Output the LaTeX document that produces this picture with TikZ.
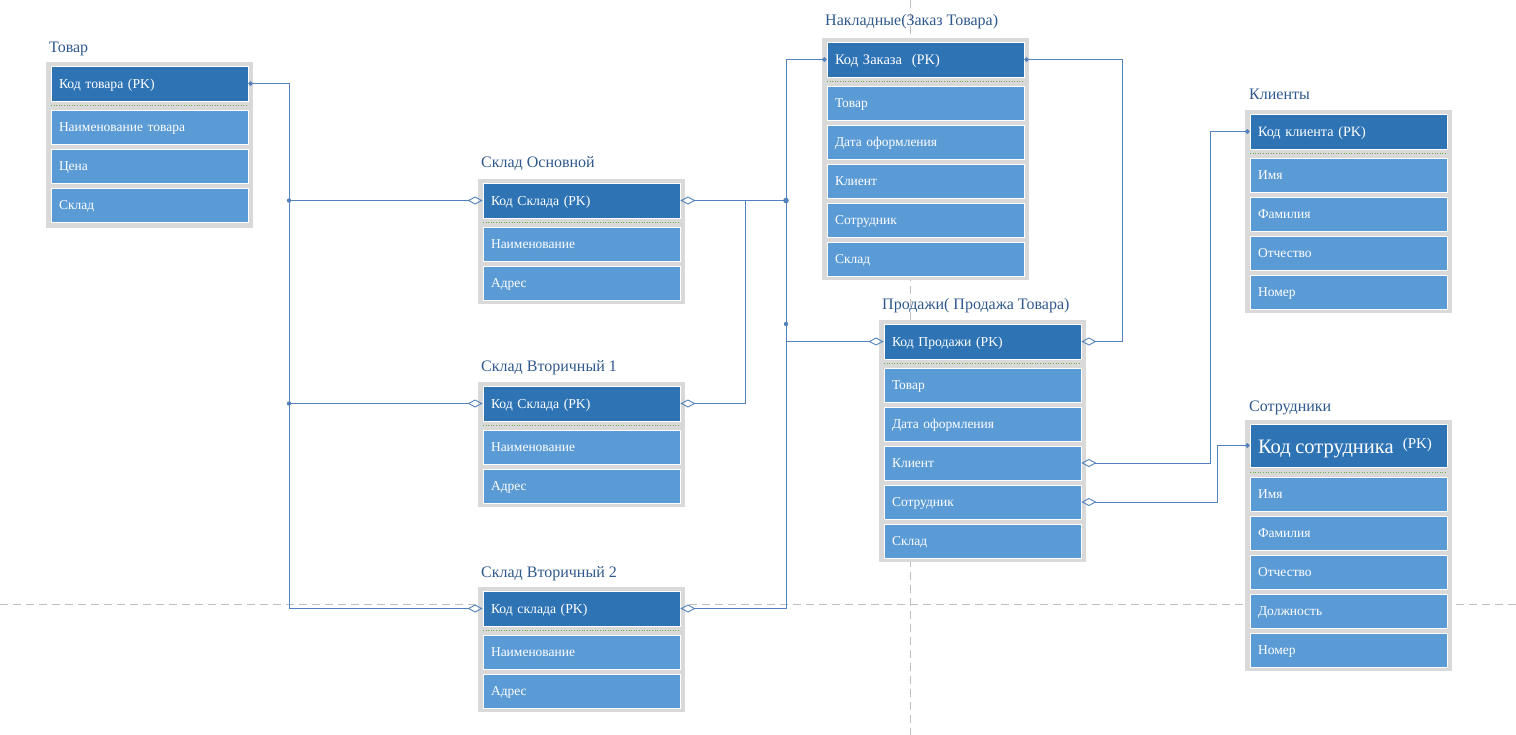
\documentclass[tikz,border=0pt]{standalone}
\usepackage{fontspec}
\setmainfont{Liberation Serif}
\usepackage{xcolor}
\usepackage{tikz}
\usetikzlibrary{arrows.meta}

\definecolor{hdrblue}{RGB}{46,116,181}
\definecolor{rowblue}{RGB}{91,155,213}
\definecolor{boxgray}{RGB}{217,217,217}
\definecolor{titleblue}{RGB}{47,88,140}
\definecolor{linkblue}{RGB}{84,130,188}
\definecolor{sepgreen}{RGB}{112,173,71}

\tikzset{
  tbltitle/.style={anchor=base west, inner sep=0pt, text=titleblue, font=\fontsize{16}{18}\selectfont},
  hdr/.style={fill=hdrblue, draw=white, line width=0.8pt, text=white, font=\fontsize{13.7}{15}\selectfont,
    minimum width=197pt, minimum height=35pt, text width=181pt, inner xsep=8pt, inner ysep=0pt, align=left,
    text height=10.5pt, text depth=1pt},
  row/.style={hdr, fill=rowblue, minimum height=34pt, font=\fontsize{13.5}{15}\selectfont},
  sep/.style={sepgreen, dotted, line width=0.6pt},
  conn/.style={linkblue, line width=0.9pt},
  fk/.style={conn, -{Diamond[open, length=15pt, width=8pt]}},
  pk/.style={conn, {Circle[length=4.5pt]}-},
  pkfk/.style={conn, {Circle[length=4.5pt]}-{Diamond[open, length=15pt, width=8pt]}},
  pagebreak/.style={black!25, dash pattern=on 8pt off 5pt, line width=0.8pt}
}

\begin{document}
\begin{tikzpicture}[x=1pt, y=-1pt]
  \useasboundingbox (0,0) rectangle (1516,735);
  \draw[pagebreak] (0,604) -- (1516,604);
  \draw[pagebreak] (910,0) -- (910,735);

  % Товар
  \fill[boxgray] (46,62) rectangle (253,228);
  \node[tbltitle] (tovt) at (49,53) {Товар};
  \node[hdr] (tov0) at (149.5,83.5) {Код товара (PK)};
  \draw[sep] (51,105.5) -- (248,105.5);
  \node[row] (tov1) at (149.5,127) {Наименование товара};
  \node[row] (tov2) at (149.5,166) {Цена};
  \node[row] (tov3) at (149.5,205) {Склад};

  % Склад Основной
  \fill[boxgray] (478,179) rectangle (685,304);
  \node[tbltitle] (sost) at (481,168) {Склад Основной};
  \node[hdr] (sos0) at (581.5,200.5) {Код Склада (PK)};
  \draw[sep] (483,222.5) -- (680,222.5);
  \node[row] (sos1) at (581.5,244) {Наименование};
  \node[row] (sos2) at (581.5,283) {Адрес};

  % Склад Вторичный 1
  \fill[boxgray] (478,382) rectangle (685,507);
  \node[tbltitle] (sv1t) at (481,371) {Склад Вторичный 1};
  \node[hdr] (sv10) at (581.5,403.5) {Код Склада (PK)};
  \draw[sep] (483,425.5) -- (680,425.5);
  \node[row] (sv11) at (581.5,447) {Наименование};
  \node[row] (sv12) at (581.5,486) {Адрес};

  % Склад Вторичный 2
  \fill[boxgray] (478,587) rectangle (685,712);
  \node[tbltitle] (sv2t) at (481,577) {Склад Вторичный 2};
  \node[hdr] (sv20) at (581.5,608.5) {Код склада (PK)};
  \draw[sep] (483,630.5) -- (680,630.5);
  \node[row] (sv21) at (581.5,652) {Наименование};
  \node[row] (sv22) at (581.5,691) {Адрес};

  % Накладные
  \fill[boxgray] (822,38) rectangle (1029,280);
  \node[tbltitle] (nakt) at (825,26) {Накладные(Заказ Товара)};
  \node[hdr, font=\fontsize{14.5}{16}\selectfont] (nak0) at (925.5,59.5) {Код Заказа~ (PK)};
  \draw[sep] (827,81.5) -- (1024,81.5);
  \node[row] (nak1) at (925.5,103) {Товар};
  \node[row] (nak2) at (925.5,142) {Дата оформления};
  \node[row] (nak3) at (925.5,181) {Клиент};
  \node[row] (nak4) at (925.5,220) {Сотрудник};
  \node[row] (nak5) at (925.5,259) {Склад};

  % Продажи
  \fill[boxgray] (879,320) rectangle (1086,562);
  \node[tbltitle] (prot) at (882,310) {Продажи( Продажа Товара)};
  \node[hdr] (pro0) at (982.5,341.5) {Код Продажи (PK)};
  \draw[sep] (884,363.5) -- (1081,363.5);
  \node[row] (pro1) at (982.5,385) {Товар};
  \node[row] (pro2) at (982.5,424) {Дата оформления};
  \node[row] (pro3) at (982.5,463) {Клиент};
  \node[row] (pro4) at (982.5,502) {Сотрудник};
  \node[row] (pro5) at (982.5,541) {Склад};

  % Клиенты
  \fill[boxgray] (1245,110) rectangle (1452,313);
  \node[tbltitle] (klit) at (1249,100) {Клиенты};
  \node[hdr, font=\fontsize{14.2}{16}\selectfont] (kli0) at (1348.5,131.5) {Код клиента (PK)};
  \draw[sep] (1250,153.5) -- (1447,153.5);
  \node[row] (kli1) at (1348.5,175) {Имя};
  \node[row] (kli2) at (1348.5,214) {Фамилия};
  \node[row] (kli3) at (1348.5,253) {Отчество};
  \node[row] (kli4) at (1348.5,292) {Номер};

  % Сотрудники
  \fill[boxgray] (1245,420) rectangle (1452,671);
  \node[tbltitle] (sott) at (1249,411) {Сотрудники};
  \node[hdr, minimum height=43pt, text height=17pt, text depth=1.4pt] (sot0) at (1348.5,445.5)
    {{\fontsize{20.5}{22}\selectfont Код сотрудника}~ \raisebox{5pt}{\fontsize{15}{16}\selectfont (PK)}};
  \draw[sep] (1250,472) -- (1447,472);
  \node[row] (sot1) at (1348.5,494) {Имя};
  \node[row] (sot2) at (1348.5,533) {Фамилия};
  \node[row] (sot3) at (1348.5,572) {Отчество};
  \node[row] (sot4) at (1348.5,611) {Должность};
  \node[row] (sot5) at (1348.5,650) {Номер};

  % связи
  \coordinate (busa) at (289,0);
  \coordinate (busb) at (745,0);
  \coordinate (busc) at (786,0);
  \coordinate (busd) at (1122,0);
  \coordinate (buse) at (1210,0);
  \coordinate (busf) at (1217,0);
  \coordinate (glue) at (786,324);

  \draw[pkfk] (tov0.east) -- (tov0.east -| busa) -- (sv20.west -| busa) -- (sv20.west);
  \draw[fk] (sos0.west -| busa) -- (sos0.west);
  \draw[fk] (sv10.west -| busa) -- (sv10.west);
  \fill[linkblue] (sos0.west -| busa) circle (2.2pt) (sv10.west -| busa) circle (2.2pt);

  \draw[conn, {Diamond[open, length=15pt, width=8pt]}-] (sos0.east) -- (sos0.east -| busc);
  \draw[fk] (sos0.east -| busb) -- (sv10.east -| busb) -- (sv10.east);
  \draw[pkfk] (nak0.west) -- (nak0.west -| busc) -- (sv20.east -| busc) -- (sv20.east);
  \draw[fk] (pro0.west -| busc) -- (pro0.west);
  \fill[linkblue] (sos0.east -| busc) circle (2.8pt) (glue) circle (2.2pt);

  \draw[pkfk] (nak0.east) -- (nak0.east -| busd) -- (pro0.east -| busd) -- (pro0.east);
  \draw[pkfk] (kli0.west) -- (kli0.west -| buse) -- (pro3.east -| buse) -- (pro3.east);
  \draw[pkfk] (sot0.west) -- (sot0.west -| busf) -- (pro4.east -| busf) -- (pro4.east);
\end{tikzpicture}
\end{document}
